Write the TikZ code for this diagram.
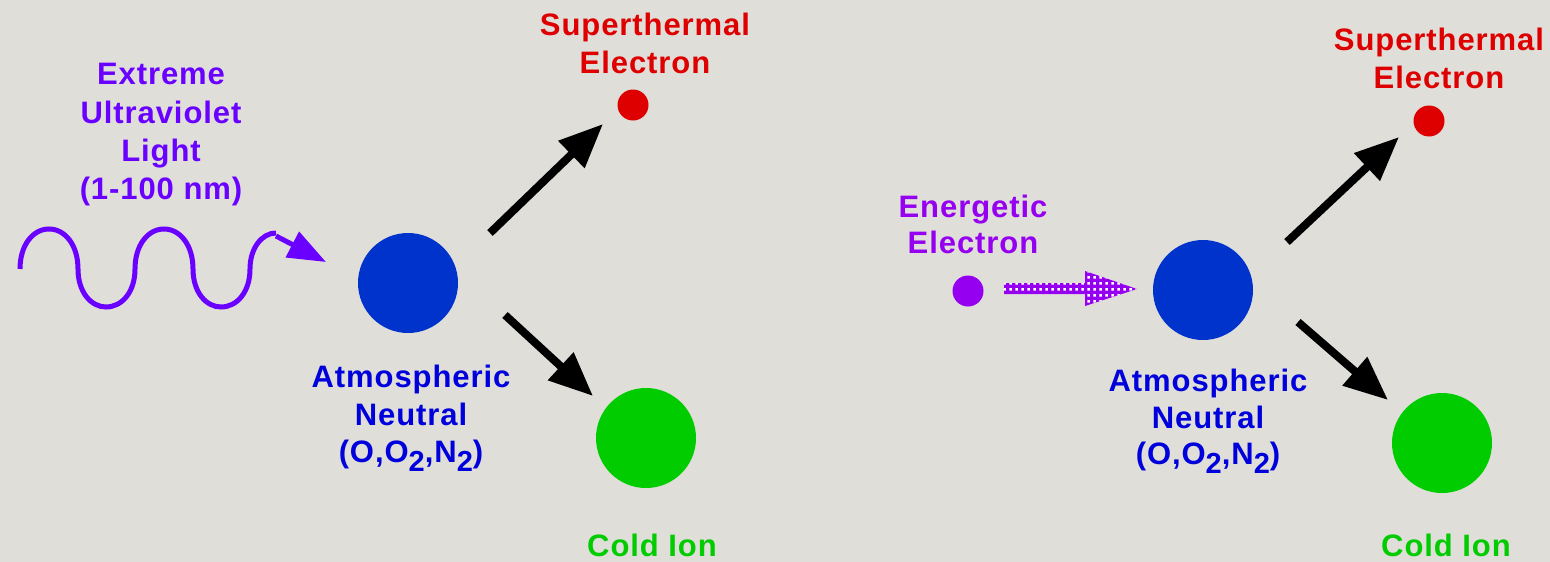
\documentclass[tikz,border=0pt]{standalone}
\usepackage{fontspec}
\newfontfamily\lab[LetterSpace=3]{Liberation Sans}
\usetikzlibrary{arrows.meta,patterns.meta,calc}
\definecolor{bg}{RGB}{223,222,217}
\definecolor{uvp}{RGB}{106,0,255}
\definecolor{enp}{RGB}{150,0,240}
\definecolor{neub}{RGB}{0,51,204}
\definecolor{neut}{RGB}{0,0,220}
\definecolor{sred}{RGB}{222,0,0}
\definecolor{cgreen}{RGB}{0,204,0}
\tikzdeclarepattern{
  name=whitesq,
  type=uncolored,
  bottom left={(0pt,0pt)},
  top right={(6pt,6pt)},
  tile size={(6pt,6pt)},
  code={\pgfpathrectangle{\pgfpoint{1.5pt}{1.5pt}}{\pgfpoint{3pt}{3pt}}\pgfusepath{fill}}
}
\newcommand{\sub}[1]{\raisebox{-9pt}{\fontsize{29}{29}\selectfont #1}}
\begin{document}
\begin{tikzpicture}[x=1pt,y=-1pt,
  lbl/.style={anchor=base,inner sep=0pt,font=\lab\bfseries\fontsize{31}{38}\selectfont},
  dot/.style={circle,inner sep=0pt,minimum size=#1},
  bigarrow/.style={line width=8pt,-{Triangle[length=44pt,width=36pt]}},
  wave/.style={line width=5pt,draw=uvp}
]
\fill[bg] (0,0) rectangle (1550,562);
\useasboundingbox (0,0) rectangle (1550,562);

% ---------------- left panel ----------------
\node[lbl,text=uvp] (euv1) at (161,84) {Extreme};
\node[lbl,text=uvp] (euv2) at (161,123) {Ultraviolet};
\node[lbl,text=uvp] (euv3) at (161,161) {Light};
\node[lbl,text=uvp] (euv4) at (161,199) {(1-100 nm)};

% wave
\draw[wave] (20,269)
  .. controls (20,245) and (33,229) .. (49,229)
  .. controls (65,229) and (78,245) .. (78,269)
  .. controls (78,292) and (91,307) .. (106,307)
  .. controls (122,307) and (135,292) .. (135,269)
  .. controls (135,245) and (148,229) .. (164,229)
  .. controls (180,229) and (193,245) .. (193,269)
  .. controls (193,292) and (206,307) .. (221,307)
  .. controls (237,307) and (250,292) .. (250,269)
  .. controls (250,248) and (262,233) .. (276,233);
\coordinate (wend) at (276,236);
\coordinate (wtip) at (326,262);
\draw[line width=5pt,draw=uvp,-{Triangle[length=38pt,width=28pt]}] (wend) -- (wtip);

\node[dot=100pt,fill=neub] (nL) at (408,283) {};
\node[dot=31pt,fill=sred] (eL) at (633,105) {};
\node[dot=100pt,fill=cgreen] (iL) at (646,438) {};

\node[lbl,text=sred] (sL1) at (645,35) {Superthermal};
\node[lbl,text=sred] (sL2) at (645,73) {Electron};

\node[lbl,text=neut] (aL1) at (411,387) {Atmospheric};
\node[lbl,text=neut] (aL2) at (411,425) {Neutral};
\node[lbl,text=neut] (aL3) at (411,462) {(O,O\sub{2},N\sub{2})};

\node[lbl,text=cgreen] (cL) at (652,556) {Cold Ion};

\coordinate (uL0) at (490,233);
\coordinate (uL1) at (603,124);
\coordinate (dL0) at (505,315);
\coordinate (dL1) at (593,396);
\draw[bigarrow] (uL0) -- (uL1);
\draw[bigarrow] (dL0) -- (dL1);

% ---------------- right panel ----------------
\node[lbl,text=enp] (en1) at (973,217) {Energetic};
\node[lbl,text=enp] (en2) at (973,253) {Electron};
\node[dot=31pt,fill=enp] (pe) at (968,291) {};

\coordinate (ds) at (1004,289);
\coordinate (dm) at (1085,289);
\coordinate (de) at (1137,289);
\fill[enp] ($(ds)+(0,-6)$) -- ($(dm)+(0,-6)$) -- ($(dm)+(0,-18)$) -- (de) -- ($(dm)+(0,17)$) -- ($(dm)+(0,5)$) -- ($(ds)+(0,5)$) -- cycle;
\fill[pattern=whitesq,pattern color=white] ($(ds)+(0,-6)$) -- ($(dm)+(0,-6)$) -- ($(dm)+(0,-18)$) -- (de) -- ($(dm)+(0,17)$) -- ($(dm)+(0,5)$) -- ($(ds)+(0,5)$) -- cycle;

\node[dot=100pt,fill=neub] (nR) at (1203,290) {};
\node[dot=31pt,fill=sred] (eR) at (1429,121) {};
\node[dot=100pt,fill=cgreen] (iR) at (1442,443) {};

\node[lbl,text=sred] (sR1) at (1439,50) {Superthermal};
\node[lbl,text=sred] (sR2) at (1439,88) {Electron};

\node[lbl,text=neut] (aR1) at (1208,391) {Atmospheric};
\node[lbl,text=neut] (aR2) at (1208,428) {Neutral};
\node[lbl,text=neut] (aR3) at (1208,464) {(O,O\sub{2},N\sub{2})};

\node[lbl,text=cgreen] (cR) at (1446,556) {Cold Ion};

\coordinate (uR0) at (1287,242);
\coordinate (uR1) at (1399,137);
\coordinate (dR0) at (1298,322);
\coordinate (dR1) at (1388,400);
\draw[bigarrow] (uR0) -- (uR1);
\draw[bigarrow] (dR0) -- (dR1);
\end{tikzpicture}
\end{document}
